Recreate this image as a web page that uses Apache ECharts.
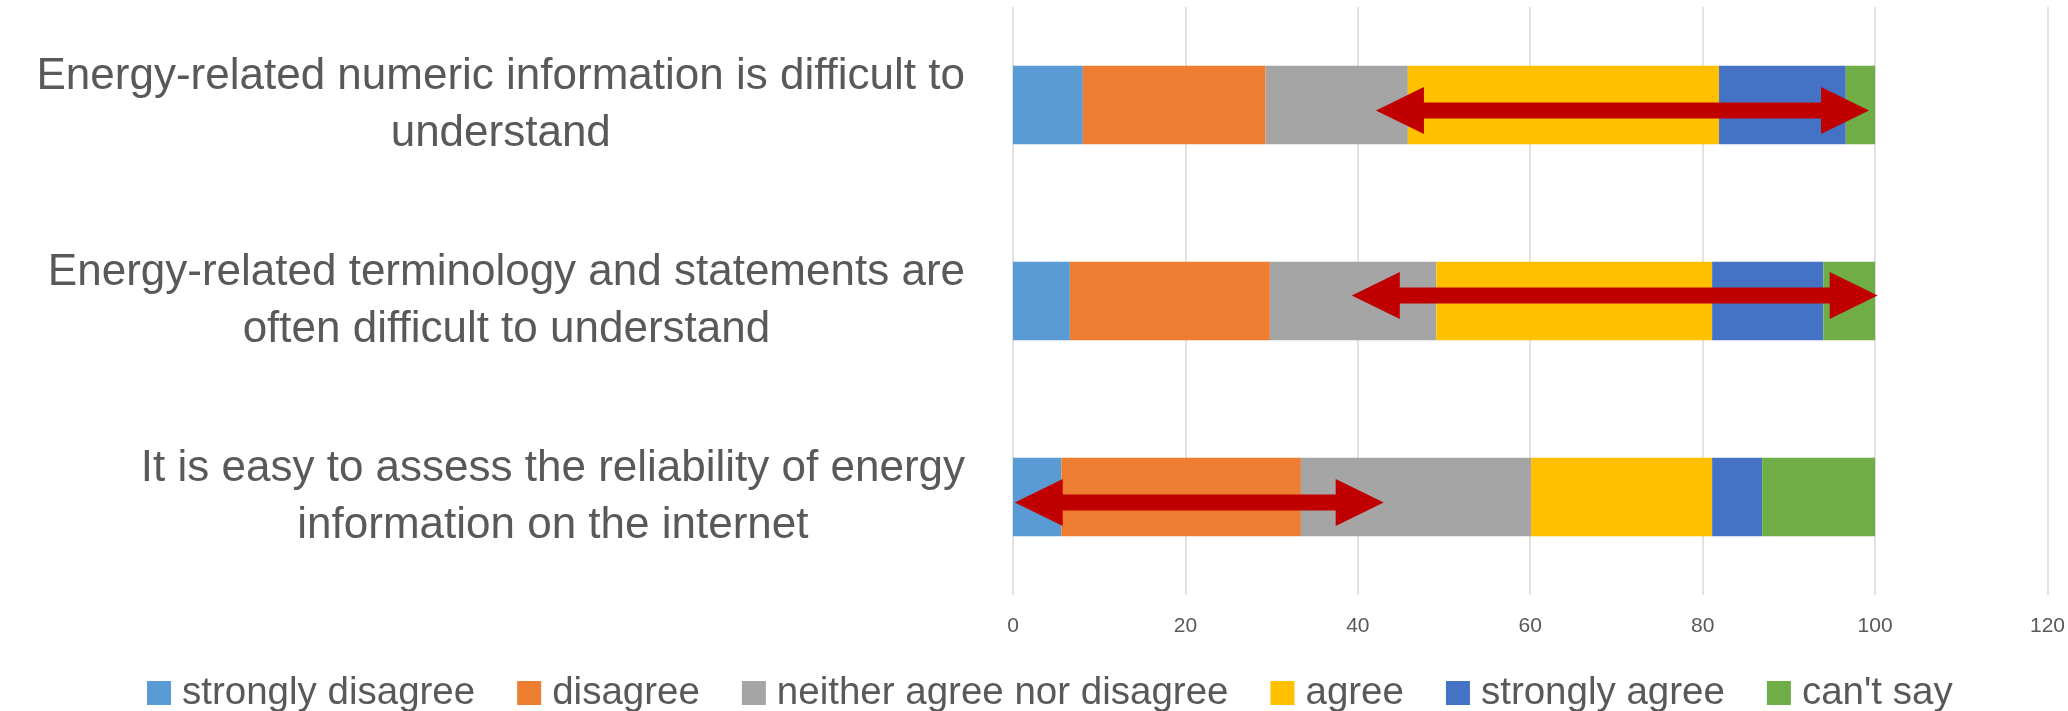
<!DOCTYPE html>
<html>
<head>
<meta charset="utf-8">
<script src="https://cdn.jsdelivr.net/npm/echarts@6/dist/echarts.min.js"></script>
<style>
  html, body { margin: 0; padding: 0; background: #ffffff; }
  #chart { width: 2068px; height: 711px; }
</style>
</head>
<body>
<div id="chart"></div>
<script>
// ---- data ----
var categories = [
  'Energy-related numeric information is difficult to\nunderstand',
  'Energy-related terminology and statements are\noften difficult to understand',
  'It is easy to assess the reliability of energy\ninformation on the internet'
];
var seriesNames = ['strongly disagree', 'disagree', 'neither agree nor disagree', 'agree', 'strongly agree', "can't say"];
var stronglyDisagree = [8.1, 6.6, 5.6];
var disagree         = [21.2, 23.2, 27.8];
var neither          = [16.5, 19.3, 26.7];
var agree            = [36.1, 32.0, 21.0];
var stronglyAgree    = [14.7, 12.9, 5.8];
var cantSay          = [3.4, 6.0, 13.1];
var arrowFrom = [42.1, 39.3, 0.2];
var arrowTo   = [99.3, 100.3, 43.0];
var xMin = 0, xMax = 120, xStep = 20;

// ---- styles ----
var colors = ['#5B9BD5', '#ED7D31', '#A5A5A5', '#FFC000', '#4472C4', '#70AD47'];
var FONT = "'Liberation Sans', Arial, sans-serif";
var TXT = '#595959';
var arrowDy = [5.5, -5.5, 5.5];

var values = [stronglyDisagree, disagree, neither, agree, stronglyAgree, cantSay];
var barSeries = seriesNames.map(function (n, i) {
  return {
    name: n, type: 'bar', stack: 'total', barWidth: '40%',
    itemStyle: { color: colors[i] },
    data: values[i]
  };
});

var arrowData = categories.map(function (c, i) { return [i, arrowFrom[i], arrowTo[i]]; });

var arrowSeries = {
  type: 'custom',
  name: 'arrows',
  z: 10,
  encode: { y: 0, x: [1, 2] },
  data: arrowData,
  renderItem: function (params, api) {
    var idx = api.value(0);
    var a = api.coord([api.value(1), idx]);
    var b = api.coord([api.value(2), idx]);
    var y = a[1] + arrowDy[params.dataIndex];
    var x1 = a[0], x2 = b[0];
    var hl = 48, hh = 23.5, sh = 8;
    var pts = [
      [x1, y], [x1 + hl, y - hh], [x1 + hl, y - sh], [x2 - hl, y - sh], [x2 - hl, y - hh],
      [x2, y], [x2 - hl, y + hh], [x2 - hl, y + sh], [x1 + hl, y + sh], [x1 + hl, y + hh]
    ];
    return { type: 'polygon', shape: { points: pts }, style: { fill: '#C00000' } };
  }
};

var richLabel = {};
categories.forEach(function (c, i) {
  richLabel['c' + i] = { align: 'center', fontSize: 44, lineHeight: 57, fontFamily: FONT, color: TXT };
});

var chart = echarts.init(document.getElementById('chart'), null, { renderer: 'canvas' });
chart.setOption({
  backgroundColor: '#ffffff',
  animation: false,
  grid: { left: 1013, right: 10, top: 7, bottom: 116, containLabel: false },
  legend: {
    data: seriesNames,
    left: 142, top: 667,
    icon: 'rect', itemWidth: 24, itemHeight: 24, itemGap: 42,
    textStyle: { fontFamily: FONT, fontSize: 38.5, color: TXT, lineHeight: 42, padding: [0, 0, 0, 6] }
  },
  xAxis: {
    type: 'value', min: xMin, max: xMax, interval: xStep,
    axisLine: { show: false }, axisTick: { show: false },
    splitLine: { lineStyle: { color: '#D9D9D9', width: 1.5 } },
    axisLabel: { fontFamily: FONT, fontSize: 21, color: TXT, margin: 21 }
  },
  yAxis: {
    type: 'category', data: categories, inverse: true,
    axisLine: { show: false }, axisTick: { show: false },
    axisLabel: {
      margin: 48,
      formatter: function (v, i) {
        return v.split('\n').map(function (l) { return '{c' + i + '|' + l + '}'; }).join('\n');
      },
      rich: richLabel
    }
  },
  series: barSeries.concat([arrowSeries])
});
</script>
</body>
</html>
